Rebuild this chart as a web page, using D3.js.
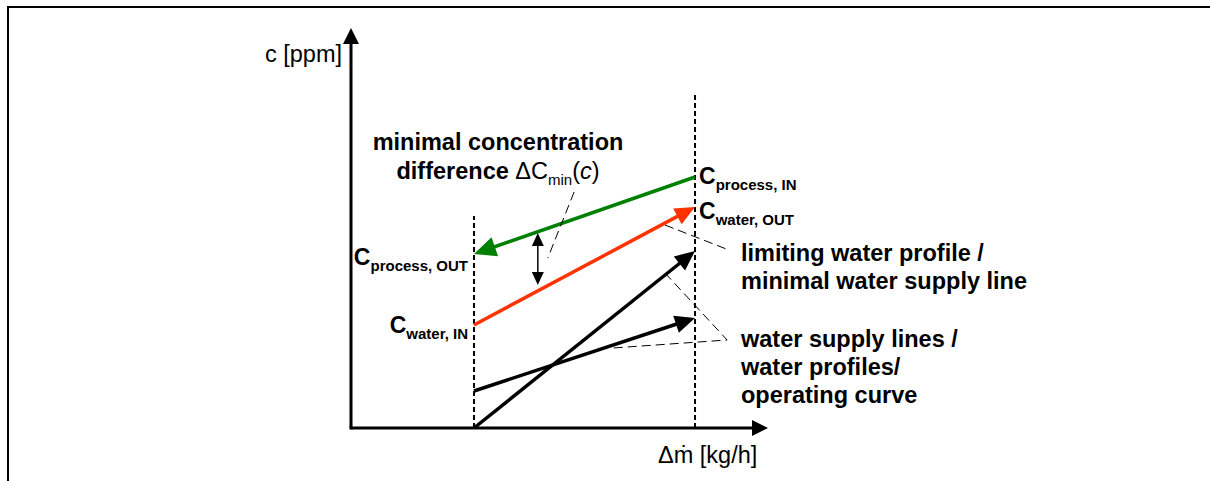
<!DOCTYPE html>
<html>
<head>
<meta charset="utf-8">
<script src="https://cdn.jsdelivr.net/npm/d3@7"></script>
<style>
  html, body { margin: 0; padding: 0; background: #fff; }
  svg { display: block; }
  text { font-family: Arial, "Liberation Sans", sans-serif; fill: #000; }
</style>
</head>
<body>
<svg id="chart" width="1210" height="481"></svg>
<script>
// ---- data (schematic units: x = Δṁ, y = c) ----
const axisTitles = ["c [ppm]", "Δṁ [kg/h]"];
const xDomain = [0, 10];
const yDomain = [0, 10];
const boundaryX = [2.95, 8.25];          // dashed verticals (process in/out)
const boundaryTop = [5.3, 8.375];        // top of dashed verticals
const processStream = [[8.25, 6.275], [2.95, 4.35]];   // green, process IN -> OUT
const limitingWater = [[2.95, 2.575], [8.25, 5.525]];  // red, water IN -> OUT
const supplySteep = [[2.95, 0.0], [8.25, 4.425]];      // black
const supplyFlat = [[2.95, 0.925], [8.25, 2.75]];      // black
const deltaCmin = [[4.48, 4.875], [4.48, 3.575]];      // double arrow
const leaderDelta = [[5.35, 5.9], [4.72, 4.25]];
const leaderLimiting = [[7.53, 5.075], [9.06, 4.45]];
const leaderSupply = [[7.53, 3.875], [9.02, 2.2], [6.28, 2.0]];
const rightLabels1 = ["limiting water profile /", "minimal water supply line"];
const rightLabels2 = ["water supply lines /", "water profiles/", "operating curve"];
const topLabel = ["minimal concentration", "difference "];

const svg = d3.select("#chart");
const x = d3.scaleLinear().domain(xDomain).range([351, 768]);
const y = d3.scaleLinear().domain(yDomain).range([428, 28]);

// frame
svg.append("path").attr("d", "M8,481 L8,7 L1210,7")
  .attr("fill", "none").attr("stroke", "#000").attr("stroke-width", 2);

function arrow(p0, p1, color, width, headLen, headHalf) {
  const x0 = x(p0[0]), y0 = y(p0[1]), x1 = x(p1[0]), y1 = y(p1[1]);
  const dx = x1 - x0, dy = y1 - y0, L = Math.hypot(dx, dy);
  const ux = dx / L, uy = dy / L;
  const bx = x1 - ux * headLen, by = y1 - uy * headLen;
  svg.append("line").attr("x1", x0).attr("y1", y0)
    .attr("x2", x1 - ux * headLen * 0.6).attr("y2", y1 - uy * headLen * 0.6)
    .attr("stroke", color).attr("stroke-width", width);
  svg.append("path")
    .attr("d", `M${x1},${y1} L${bx - uy * headHalf},${by + ux * headHalf} L${bx + uy * headHalf},${by - ux * headHalf} Z`)
    .attr("fill", color);
}

// dashed verticals
boundaryX.forEach((bx, i) => {
  svg.append("line").attr("x1", x(bx)).attr("x2", x(bx))
    .attr("y1", y(0)).attr("y2", y(boundaryTop[i]))
    .attr("stroke", "#000").attr("stroke-width", 2).attr("stroke-dasharray", "5,3");
});

// axes
arrow([0, 0], [0, yDomain[1]], "#000", 3, 16, 8);
arrow([0, 0], [xDomain[1], 0], "#000", 3, 16, 8);
svg.append("rect").attr("x", x(0) - 1.5).attr("y", y(0) - 1.5).attr("width", 3).attr("height", 3);

// streams
arrow(processStream[0], processStream[1], "#008000", 3.5, 22, 10);
arrow(limitingWater[0], limitingWater[1], "#ff3300", 3.5, 20, 9);
arrow(supplySteep[0], supplySteep[1], "#000", 3.5, 20, 9);
arrow(supplyFlat[0], supplyFlat[1], "#000", 3.5, 20, 9);

// double arrow ΔCmin
(function () {
  const xm = x(deltaCmin[0][0]), ya = y(deltaCmin[0][1]), yb = y(deltaCmin[1][1]);
  svg.append("line").attr("x1", xm).attr("x2", xm).attr("y1", ya + 10).attr("y2", yb - 10)
    .attr("stroke", "#000").attr("stroke-width", 1.5);
  svg.append("path").attr("d", `M${xm},${ya} L${xm - 6},${ya + 13} L${xm + 6},${ya + 13} Z`);
  svg.append("path").attr("d", `M${xm},${yb} L${xm - 6},${yb - 13} L${xm + 6},${yb - 13} Z`);
})();

// leader lines
const lineGen = d3.line().x(d => x(d[0])).y(d => y(d[1]));
[leaderDelta, leaderLimiting, leaderSupply].forEach(pts => {
  svg.append("path").attr("d", lineGen(pts)).attr("fill", "none")
    .attr("stroke", "#000").attr("stroke-width", 1).attr("stroke-dasharray", "9,5");
});

// axis titles
svg.append("text").attr("x", x(0) - 9).attr("y", 62).attr("text-anchor", "end")
  .attr("font-size", 23.5).text(axisTitles[0]);
svg.append("text").attr("x", 658).attr("y", 463)
  .attr("font-size", 23.5).text(axisTitles[1]);

// C labels
function cLabel(px, py, sub, anchor) {
  const t = svg.append("text").attr("x", px).attr("y", py).attr("text-anchor", anchor)
    .attr("font-weight", "bold");
  t.append("tspan").attr("font-size", 23).text("C");
  t.append("tspan").attr("font-size", 15).attr("dy", 6).text(sub);
}
cLabel(x(boundaryX[1]) + 4, y(processStream[0][1]) + 7, "process, IN", "start");
cLabel(x(boundaryX[1]) + 4, y(limitingWater[1][1]) + 12, "water, OUT", "start");
cLabel(x(boundaryX[0]) - 6, y(processStream[1][1]) + 11, "process, OUT", "end");
cLabel(x(boundaryX[0]) - 6, y(limitingWater[0][1]) + 8, "water, IN", "end");

// top label
const tl = svg.append("text").attr("x", 498).attr("y", 150).attr("text-anchor", "middle")
  .attr("font-size", 23.5).attr("font-weight", "bold");
tl.append("tspan").text(topLabel[0]);
const t2 = svg.append("text").attr("x", 498).attr("y", 179).attr("text-anchor", "middle")
  .attr("font-size", 23.5);
t2.append("tspan").attr("font-weight", "bold").text(topLabel[1]);
t2.append("tspan").text("ΔC");
t2.append("tspan").attr("font-size", 15).attr("dy", 6).text("min");
t2.append("tspan").attr("dy", -6).text("(");
t2.append("tspan").attr("font-style", "italic").text("c");
t2.append("tspan").text(")");

// right labels
rightLabels1.forEach((s, i) => {
  svg.append("text").attr("x", 741).attr("y", 261 + i * 28)
    .attr("font-size", 23.5).attr("font-weight", "bold").text(s);
});
rightLabels2.forEach((s, i) => {
  svg.append("text").attr("x", 741).attr("y", 347 + i * 28)
    .attr("font-size", 23.5).attr("font-weight", "bold").text(s);
});
</script>
</body>
</html>
